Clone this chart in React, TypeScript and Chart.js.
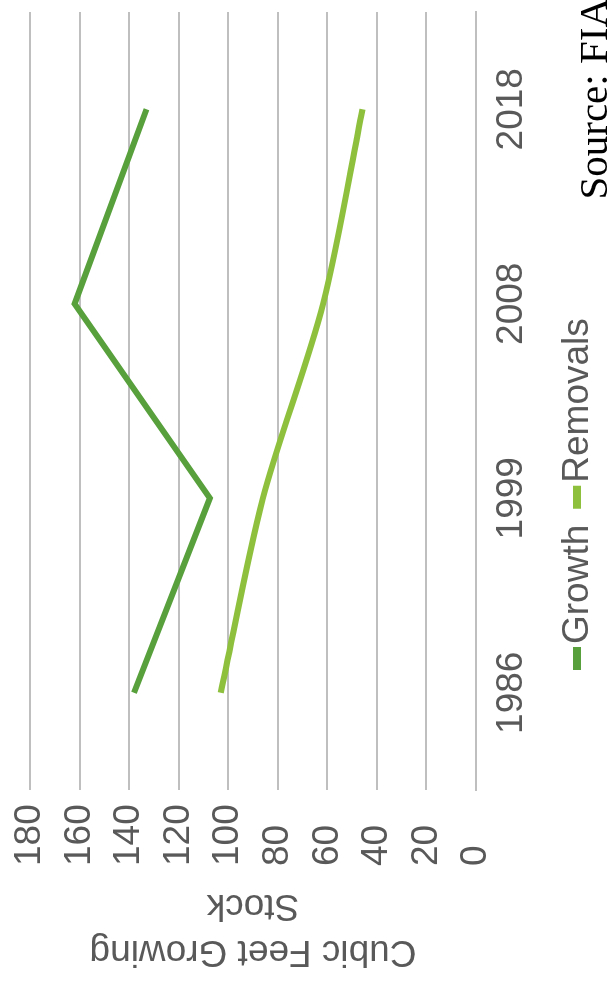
import React, { useEffect, useRef } from 'react';
import { Chart, registerables } from 'chart.js';

Chart.register(...registerables);

// Survey years and cubic-foot volumes (millions) per series
const years = ['1986', '1999', '2008', '2018'];
const growth = [138, 107.4, 162, 133];
const removals = [103, 86, 61.7, 45.8];

// Value axis range
const yMin = 0;
const yMax = 180;
const yStep = 20;

const axisTitle = ['Cubic Feet Growing', 'Stock'];
const sourceNote = 'Source: FIA';

const W = 982;
const H = 613;
const SANS = '"Liberation Sans", Arial, sans-serif';
const SERIF = '"Liberation Serif", "Times New Roman", serif';
const TEXT = '#595959';
const GRID = '#bfbfbf';
const FONT_SIZE = 37;

// Two-line value-axis title, rotated to read bottom-to-top
const axisTitlePlugin = {
  id: 'valueAxisTitle',
  afterDraw(chart: any) {
    const { ctx, chartArea } = chart;
    const cy = (chartArea.top + chartArea.bottom) / 2;
    const xs = [31, 77];
    ctx.save();
    ctx.fillStyle = TEXT;
    ctx.font = `${FONT_SIZE}px ${SANS}`;
    ctx.textAlign = 'center';
    ctx.textBaseline = 'middle';
    axisTitle.forEach((line, i) => {
      ctx.save();
      ctx.translate(xs[i], cy);
      ctx.rotate(-Math.PI / 2);
      ctx.fillText(line, 0, 0);
      ctx.restore();
    });
    ctx.restore();
  },
};

// Compact legend: short colour bar followed closely by the series name
const compactLegendPlugin = {
  id: 'compactLegend',
  afterDraw(chart: any) {
    const { ctx } = chart;
    const y = 577;
    let x = 312;
    ctx.save();
    ctx.font = `${FONT_SIZE}px ${SANS}`;
    ctx.textBaseline = 'middle';
    ctx.textAlign = 'left';
    chart.data.datasets.forEach((ds: any) => {
      ctx.fillStyle = ds.borderColor;
      ctx.fillRect(x, y - 4, 23, 8);
      x += 23 + 3;
      ctx.fillStyle = TEXT;
      ctx.fillText(ds.label, x, y + 1);
      x += ctx.measureText(ds.label).width + 16;
    });
    ctx.restore();
  },
};

// Data source credit in the lower-right corner
const sourcePlugin = {
  id: 'sourceNote',
  afterDraw(chart: any) {
    const { ctx } = chart;
    ctx.save();
    ctx.font = `41px ${SERIF}`;
    ctx.fillStyle = '#000000';
    ctx.textAlign = 'right';
    ctx.textBaseline = 'alphabetic';
    ctx.fillText(sourceNote, 984, 607);
    ctx.restore();
  },
};

function GrowthRemovalsChart() {
  const canvasRef = useRef<HTMLCanvasElement | null>(null);

  useEffect(() => {
    const canvas = canvasRef.current;
    if (!canvas) return;

    const chart = new Chart(canvas, {
      type: 'line',
      data: {
        labels: years,
        datasets: [
          {
            label: 'Growth',
            data: growth,
            borderColor: '#57a03b',
            backgroundColor: '#57a03b',
            borderWidth: 6,
            pointRadius: 0,
            tension: 0,
            borderCapStyle: 'butt',
            borderJoinStyle: 'miter',
          },
          {
            label: 'Removals',
            data: removals,
            borderColor: '#8ec03e',
            backgroundColor: '#8ec03e',
            borderWidth: 6,
            pointRadius: 0,
            tension: 0.3,
            borderCapStyle: 'butt',
          },
        ],
      },
      options: {
        responsive: false,
        animation: false,
        devicePixelRatio: 1,
        layout: { padding: { left: 116, right: 12, top: 30, bottom: 77 } },
        plugins: {
          legend: { display: false },
          tooltip: { enabled: false },
          title: { display: false },
        },
        scales: {
          x: {
            type: 'category',
            offset: true,
            grid: { display: false, drawTicks: false },
            border: { display: true, color: GRID, width: 2 },
            ticks: {
              color: TEXT,
              font: { family: SANS, size: FONT_SIZE },
              padding: 14,
              maxRotation: 0,
              autoSkip: false,
            },
            afterFit: (scale: any) => {
              scale.height = 60;
            },
          },
          y: {
            min: yMin,
            max: yMax,
            grid: { color: GRID, lineWidth: 2, drawTicks: false },
            border: { display: false },
            ticks: {
              stepSize: yStep,
              color: TEXT,
              font: { family: SANS, size: FONT_SIZE },
              crossAlign: 'far',
              padding: 0,
            },
            afterFit: (scale: any) => {
              scale.width = 76;
            },
          },
        },
      },
      plugins: [axisTitlePlugin, compactLegendPlugin, sourcePlugin],
    });

    return () => chart.destroy();
  }, []);

  return (
    <div
      style={{
        position: 'fixed',
        left: 0,
        top: 0,
        width: W,
        height: H,
        background: '#ffffff',
        transformOrigin: '0 0',
        transform: `translateY(${W}px) rotate(-90deg)`,
      }}
    >
      <canvas ref={canvasRef} width={W} height={H} style={{ display: 'block', width: W, height: H }} />
    </div>
  );
}

export default function App() {
  return <GrowthRemovalsChart />;
}
